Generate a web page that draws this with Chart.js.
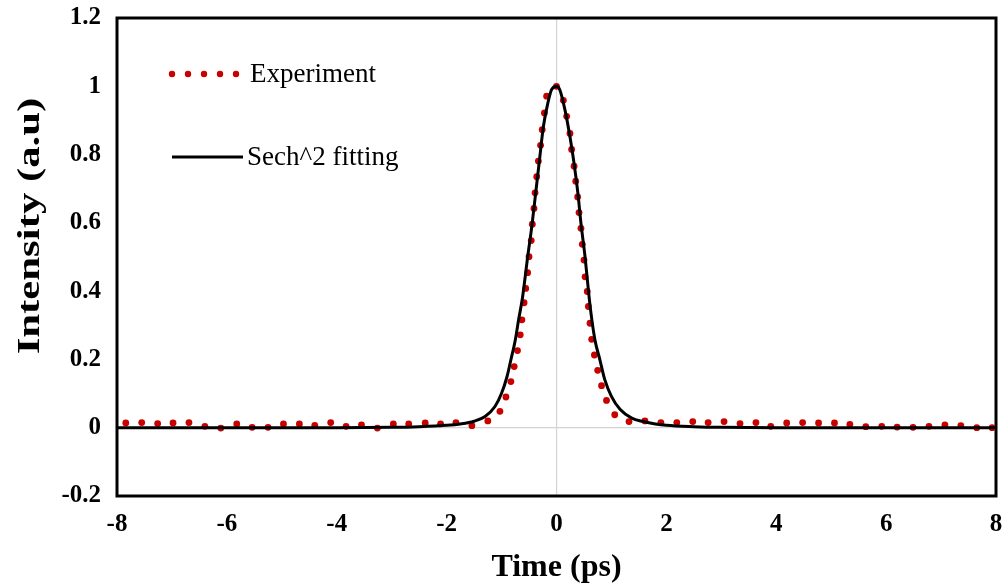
<!DOCTYPE html>
<html>
<head>
<meta charset="utf-8">
<script src="https://cdn.jsdelivr.net/npm/chart.js@4"></script>
<style>
  body { margin: 0; background: #fff; }
  #wrap { width: 1004px; height: 587px; position: relative; }
</style>
</head>
<body>
<div id="wrap"><canvas id="pulseChart"></canvas></div>
<script>
const expTime = [
  -7.84, -7.55, -7.26, -6.98, -6.69, -6.40, -6.11, -5.82, -5.54, -5.25, -4.97, -4.68,
  -4.40, -4.11, -3.83, -3.55, -3.26, -2.97, -2.69, -2.39, -2.11, -1.83, -1.54, -1.25,
  -1.03, -0.92, -0.83, -0.77, -0.71, -0.66, -0.63, -0.59, -0.56, -0.525, -0.50, -0.46,
  -0.44, -0.41, -0.39, -0.36, -0.33, -0.29, -0.26, -0.22, -0.18, 0,
  0.125, 0.185, 0.245, 0.275, 0.32, 0.35, 0.385, 0.41, 0.445, 0.47, 0.50, 0.52,
  0.56, 0.58, 0.61, 0.64, 0.69, 0.75, 0.82, 0.91, 1.06, 1.32, 1.61, 1.90,
  2.19, 2.48, 2.76, 3.05, 3.34, 3.63, 3.90, 4.19, 4.48, 4.77, 5.06, 5.34,
  5.63, 5.92, 6.20, 6.49, 6.78, 7.07, 7.36, 7.65, 7.93
];
const expIntensity = [
  0.014, 0.015, 0.012, 0.014, 0.015, 0.004, -0.001, 0.011, 0.001, 0.001, 0.011, 0.011,
  0.007, 0.015, 0.004, 0.008, -0.001, 0.011, 0.011, 0.014, 0.011, 0.015, 0.006, 0.020,
  0.048, 0.090, 0.135, 0.179, 0.226, 0.272, 0.316, 0.366, 0.408, 0.454, 0.501, 0.548,
  0.596, 0.642, 0.688, 0.735, 0.781, 0.827, 0.873, 0.922, 0.971, 1.0,
  0.959, 0.912, 0.862, 0.815, 0.766, 0.722, 0.676, 0.630, 0.584, 0.537, 0.491, 0.442,
  0.399, 0.355, 0.306, 0.259, 0.213, 0.168, 0.123, 0.080, 0.038, 0.018, 0.020, 0.015,
  0.015, 0.018, 0.015, 0.018, 0.012, 0.015, 0.004, 0.014, 0.015, 0.014, 0.014, 0.010,
  0.003, 0.004, 0.002, 0.001, 0.004, 0.008, 0.006, 0.0, 0.0
];

// Sech^2 fit curve
const fitTime = [
  -8, -4, -3, -2.5, -2, -1.75, -1.5, -1.3, -1.12, -1.0, -0.9, -0.83, -0.75, -0.69,
  -0.62, -0.525, -0.45, -0.38, -0.31, -0.24, -0.16, -0.09, 0, 0.06, 0.155, 0.245,
  0.32, 0.39, 0.445, 0.52, 0.58, 0.62, 0.70, 0.79, 0.88, 1.0, 1.16, 1.37, 1.58,
  1.8, 2.0, 2.5, 3, 4, 8
];
const fitIntensity = [
  0, 0, 0.001, 0.003, 0.007, 0.011, 0.019, 0.033, 0.062, 0.101, 0.150, 0.199, 0.257, 0.316,
  0.380, 0.500, 0.589, 0.686, 0.784, 0.881, 0.949, 0.990, 1.0, 0.990, 0.930, 0.852,
  0.774, 0.686, 0.599, 0.500, 0.404, 0.345, 0.257, 0.199, 0.140, 0.092, 0.053, 0.028, 0.018,
  0.011, 0.007, 0.003, 0.001, 0, 0
];

const xTickValues = [-8, -6, -4, -2, 0, 2, 4, 6, 8];
const yTickValues = [-0.2, 0, 0.2, 0.4, 0.6, 0.8, 1, 1.2];

const serif = "'Liberation Serif', 'Times New Roman', serif";
const red = '#c80000';

const toPoints = (xs, ys) => xs.map((x, i) => ({ x, y: ys[i] }));
const zeroGrid = ctx => (ctx.tick && ctx.tick.value === 0 ? '#d4d4d4' : 'rgba(0,0,0,0)');

// Frame around the plot area, Excel style
const frame = {
  id: 'frame',
  beforeDatasetsDraw(chart) {
    const { ctx, chartArea: a } = chart;
    ctx.save();
    ctx.strokeStyle = '#000';
    ctx.lineWidth = 3;
    ctx.strokeRect(a.left, a.top, a.right - a.left, a.bottom - a.top);
    ctx.restore();
  }
};

// Rotated y title: sits a bit above centre and is drawn wide in the original
const yTitle = {
  id: 'yTitle',
  afterDraw(chart) {
    const { ctx } = chart;
    ctx.save();
    ctx.translate(31, 226);
    ctx.rotate(-Math.PI / 2);
    ctx.scale(1.38, 1);
    ctx.font = 'bold 31px ' + serif;
    ctx.fillStyle = '#000';
    ctx.textAlign = 'center';
    ctx.textBaseline = 'middle';
    ctx.fillText('Intensity (a.u)', 0, 0);
    ctx.restore();
  }
};

// Legend drawn inside the plot, top-left
const insideLegend = {
  id: 'insideLegend',
  afterDraw(chart) {
    const { ctx } = chart;
    const exp = chart.data.datasets[1];
    const fit = chart.data.datasets[0];
    ctx.save();
    ctx.font = '27px ' + serif;
    ctx.textBaseline = 'middle';

    ctx.fillStyle = exp.pointBackgroundColor;
    for (let i = 0; i < 5; i++) {
      ctx.beginPath();
      ctx.arc(172 + i * 16, 74, 3.2, 0, Math.PI * 2);
      ctx.fill();
    }
    ctx.fillStyle = '#000';
    ctx.fillText(exp.label, 250, 75);

    ctx.strokeStyle = fit.borderColor;
    ctx.lineWidth = fit.borderWidth;
    ctx.beginPath();
    ctx.moveTo(172, 157);
    ctx.lineTo(243, 157);
    ctx.stroke();
    ctx.fillText(fit.label, 247, 158);
    ctx.restore();
  }
};

new Chart(document.getElementById('pulseChart'), {
  type: 'scatter',
  data: {
    datasets: [
      {
        label: 'Sech^2 fitting',
        data: toPoints(fitTime, fitIntensity),
        showLine: true,
        borderColor: '#000',
        borderWidth: 3,
        pointRadius: 0,
        cubicInterpolationMode: 'monotone'
      },
      {
        label: 'Experiment',
        data: toPoints(expTime, expIntensity),
        showLine: false,
        pointRadius: 3.4,
        pointBackgroundColor: red,
        pointBorderWidth: 0,
        clip: false
      }
    ]
  },
  options: {
    responsive: true,
    maintainAspectRatio: false,
    animation: false,
    layout: { padding: { top: 18, right: 8, left: 0, bottom: 0 } },
    plugins: {
      legend: { display: false },
      tooltip: { enabled: false }
    },
    scales: {
      x: {
        type: 'linear',
        min: -8,
        max: 8,
        afterBuildTicks: s => { s.ticks = xTickValues.map(v => ({ value: v })); },
        afterFit: s => { s.height = 91; s.paddingLeft = 0; s.paddingRight = 0; },
        ticks: {
          color: '#000',
          padding: 14,
          font: { family: serif, size: 25, weight: 'bold' }
        },
        grid: { color: zeroGrid, lineWidth: 1.2, drawTicks: false },
        border: { display: false },
        title: {
          display: true,
          text: 'Time (ps)',
          color: '#000',
          font: { family: serif, size: 32, weight: 'bold' },
          padding: { top: 0, bottom: 0 }
        }
      },
      y: {
        type: 'linear',
        min: -0.2,
        max: 1.2,
        afterBuildTicks: s => { s.ticks = yTickValues.map(v => ({ value: v })); },
        afterFit: s => { s.width = 117; s.paddingTop = 0; s.paddingBottom = 0; },
        ticks: {
          color: '#000',
          padding: 16,
          font: { family: serif, size: 25, weight: 'bold' },
          callback: v => String(+Number(v).toFixed(1))
        },
        grid: { color: zeroGrid, lineWidth: 1.2, drawTicks: false },
        border: { display: false }
      }
    }
  },
  plugins: [frame, yTitle, insideLegend]
});
</script>
</body>
</html>
